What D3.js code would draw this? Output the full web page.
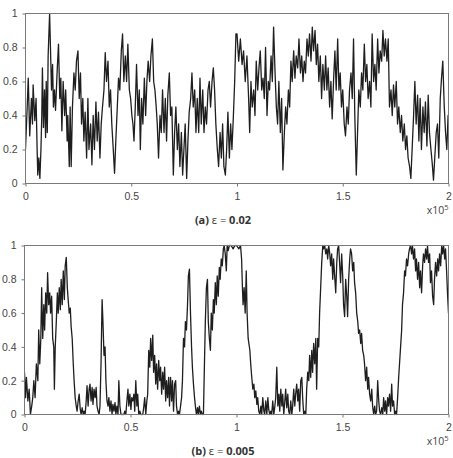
<!DOCTYPE html>
<html>
<head>
<meta charset="utf-8">
<script src="https://cdn.jsdelivr.net/npm/d3@7"></script>
<style>
  body { margin: 0; background: #fff; }
  svg { display: block; }
</style>
</head>
<body>
<div id="viz"></div>
<script>
// tick values shared by both panels (x in units of 1e5)
const xTicks = [0, 0.5, 1, 1.5, 2];
const yTicks = [0, 0.2, 0.4, 0.6, 0.8, 1];

// (a) eps = 0.02 : [time, value]
const seriesA = [
  [0,0.2],[0.008,0.45],[0.013,0.62],[0.02,0.28],[0.028,0.5],[0.033,0.35],[0.036,0.58],[0.044,0.37],[0.05,0.5],[0.055,0.2],
  [0.058,0.05],[0.063,0.15],[0.068,0.03],[0.073,0.2],[0.077,0.4],[0.08,0.68],[0.085,0.33],[0.09,0.55],[0.095,0.27],[0.098,0.6],
  [0.103,0.3],[0.107,0.75],[0.114,1.0],[0.118,0.8],[0.123,0.55],[0.128,0.7],[0.132,0.45],[0.137,0.55],[0.142,0.43],[0.15,0.67],
  [0.156,0.82],[0.162,0.5],[0.167,0.62],[0.172,0.31],[0.178,0.6],[0.185,0.4],[0.19,0.55],[0.197,0.25],[0.2,0.4],[0.207,0.1],
  [0.211,0.45],[0.216,0.1],[0.222,0.45],[0.229,0.65],[0.235,0.55],[0.241,0.72],[0.248,0.78],[0.254,0.5],[0.26,0.65],[0.265,0.35],
  [0.271,0.5],[0.276,0.25],[0.282,0.42],[0.289,0.15],[0.295,0.5],[0.3,0.2],[0.308,0.35],[0.314,0.11],[0.32,0.4],[0.326,0.2],
  [0.333,0.48],[0.339,0.25],[0.345,0.42],[0.352,0.15],[0.358,0.35],[0.364,0.45],[0.371,0.55],[0.377,0.77],[0.383,0.6],[0.39,0.72],
  [0.396,0.45],[0.402,0.55],[0.408,0.35],[0.415,0.2],[0.421,0.06],[0.427,0.25],[0.434,0.45],[0.44,0.62],[0.446,0.55],[0.453,0.78],
  [0.459,0.88],[0.465,0.6],[0.472,0.75],[0.478,0.6],[0.484,0.82],[0.491,0.55],[0.497,0.5],[0.503,0.4],[0.508,0.35],[0.513,0.25],
  [0.519,0.45],[0.525,0.7],[0.532,0.4],[0.538,0.55],[0.543,0.2],[0.549,0.5],[0.555,0.35],[0.562,0.62],[0.568,0.4],[0.574,0.6],
  [0.58,0.72],[0.587,0.6],[0.593,0.75],[0.6,0.85],[0.606,0.6],[0.612,0.55],[0.618,0.45],[0.623,0.35],[0.629,0.15],[0.636,0.4],
  [0.642,0.3],[0.648,0.55],[0.655,0.3],[0.661,0.5],[0.667,0.25],[0.673,0.52],[0.68,0.65],[0.686,0.4],[0.692,0.45],[0.699,0.05],
  [0.705,0.3],[0.711,0.45],[0.718,0.2],[0.724,0.35],[0.73,0.1],[0.737,0.3],[0.743,0.05],[0.749,0.2],[0.755,0.35],[0.762,0.03],
  [0.768,0.25],[0.774,0.42],[0.781,0.5],[0.787,0.65],[0.793,0.45],[0.8,0.55],[0.806,0.3],[0.812,0.5],[0.819,0.3],[0.825,0.62],
  [0.831,0.35],[0.838,0.55],[0.844,0.3],[0.85,0.45],[0.856,0.35],[0.863,0.55],[0.869,0.6],[0.875,0.45],[0.882,0.6],[0.888,0.68],
  [0.894,0.55],[0.9,0.35],[0.907,0.2],[0.913,0.1],[0.92,0.3],[0.926,0.15],[0.932,0.35],[0.938,0.1],[0.945,0.05],[0.951,0.2],
  [0.957,0.42],[0.964,0.15],[0.97,0.35],[0.976,0.2],[0.983,0.4],[0.989,0.6],[0.995,0.88],
  [1.0,0.88],[1.008,0.72],[1.016,0.85],[1.024,0.7],[1.031,0.78],[1.039,0.6],[1.047,0.75],[1.055,0.5],[1.06,0.3],[1.066,0.6],
  [1.072,0.45],[1.079,0.55],[1.085,0.4],[1.091,0.72],[1.098,0.55],[1.104,0.68],[1.11,0.78],[1.117,0.55],[1.123,0.62],[1.129,0.5],
  [1.135,0.8],[1.142,0.4],[1.148,0.6],[1.154,0.55],[1.161,0.75],[1.167,0.6],[1.173,0.92],[1.18,0.65],[1.186,0.45],[1.192,0.35],
  [1.198,0.6],[1.205,0.3],[1.211,0.5],[1.217,0.08],[1.224,0.3],[1.23,0.45],[1.236,0.35],[1.243,0.55],[1.249,0.45],[1.255,0.72],
  [1.261,0.6],[1.268,0.78],[1.274,0.62],[1.28,0.75],[1.287,0.68],[1.293,0.85],[1.3,0.65],[1.306,0.75],[1.312,0.6],[1.318,0.72],
  [1.324,0.65],[1.331,0.85],[1.337,0.75],[1.343,0.88],[1.35,0.72],[1.356,0.92],[1.362,0.78],[1.369,0.9],[1.375,0.7],[1.381,0.82],
  [1.387,0.6],[1.394,0.75],[1.4,0.5],[1.406,0.7],[1.413,0.55],[1.419,0.75],[1.425,0.55],[1.431,0.68],[1.438,0.45],[1.444,0.6],
  [1.45,0.38],[1.457,0.62],[1.463,0.78],[1.469,0.55],[1.476,0.85],[1.482,0.55],[1.488,0.65],[1.494,0.45],[1.5,0.55],[1.507,0.35],
  [1.513,0.28],[1.52,0.45],[1.526,0.35],[1.532,0.55],[1.539,0.65],[1.545,0.5],[1.551,0.85],[1.557,0.4],[1.564,0.05],[1.57,0.3],
  [1.576,0.55],[1.583,0.45],[1.589,0.65],[1.595,0.55],[1.602,0.82],[1.608,0.6],[1.614,0.7],[1.62,0.5],[1.627,0.6],[1.633,0.45],
  [1.639,0.88],[1.646,0.6],[1.652,0.7],[1.658,0.55],[1.665,0.85],[1.671,0.65],[1.677,0.78],[1.684,0.72],[1.69,0.9],[1.696,0.75],
  [1.702,0.85],[1.709,0.72],[1.715,0.85],[1.721,0.45],[1.728,0.55],[1.734,0.4],[1.74,0.58],[1.746,0.45],[1.753,0.6],[1.759,0.35],
  [1.765,0.45],[1.772,0.3],[1.778,0.4],[1.784,0.25],[1.791,0.35],[1.797,0.2],[1.803,0.28],[1.809,0.15],[1.816,0.1],[1.822,0.03],
  [1.828,0.2],[1.835,0.4],[1.841,0.6],[1.847,0.35],[1.854,0.52],[1.86,0.25],[1.866,0.5],[1.872,0.2],[1.879,0.45],[1.885,0.3],
  [1.891,0.48],[1.898,0.22],[1.904,0.52],[1.91,0.3],[1.917,0.2],[1.923,0.12],[1.929,0.02],[1.935,0.15],[1.942,0.3],[1.948,0.35],
  [1.954,0.15],[1.961,0.5],[1.967,0.62],[1.973,0.72],[1.98,0.45],[1.986,0.3],[1.992,0.2],[1.998,0.4],[2.0,0.35]
];

// (b) eps = 0.005
const seriesB = [
  [0,0.25],[0.005,0.1],[0.009,0.22],[0.016,0.08],[0.022,0.15],[0.028,0.0],[0.034,0.05],[0.039,0.1],[0.044,0.2],[0.05,0.1],
  [0.056,0.3],[0.063,0.2],[0.067,0.5],[0.072,0.3],[0.077,0.45],[0.081,0.75],[0.086,0.45],[0.091,0.65],[0.095,0.5],[0.1,0.72],
  [0.105,0.6],[0.109,0.84],[0.114,0.65],[0.119,0.72],[0.123,0.6],[0.128,0.7],[0.133,0.45],[0.138,0.4],[0.141,0.15],[0.145,0.4],
  [0.15,0.55],[0.155,0.72],[0.159,0.6],[0.164,0.75],[0.169,0.62],[0.173,0.8],[0.178,0.65],[0.183,0.85],[0.188,0.68],[0.192,0.88],
  [0.197,0.93],[0.202,0.75],[0.206,0.68],[0.211,0.6],[0.216,0.63],[0.22,0.52],[0.225,0.45],[0.23,0.3],[0.234,0.2],[0.239,0.1],
  [0.244,0.05],[0.248,0.02],[0.253,0.08],[0.258,0.12],[0.263,0.03],[0.267,0.0],[0.272,0.04],[0.277,0.0],[0.281,0.02],[0.286,0.0],
  [0.291,0.08],[0.295,0.17],[0.3,0.05],[0.305,0.15],[0.309,0.18],[0.314,0.08],[0.319,0.16],[0.323,0.06],[0.328,0.15],[0.333,0.1],
  [0.338,0.16],[0.342,0.05],[0.347,0.02],[0.352,0.0],[0.356,0.05],[0.361,0.3],[0.366,0.68],[0.37,0.55],[0.375,0.35],[0.38,0.4],
  [0.384,0.2],[0.389,0.08],[0.394,0.05],[0.398,0.1],[0.403,0.02],[0.408,0.08],[0.413,0.0],[0.417,0.06],[0.422,0.02],[0.427,0.07],
  [0.431,0.0],[0.436,0.05],[0.441,0.0],[0.445,0.2],[0.45,0.05],[0.455,0.0],[0.459,0.0],[0.464,0.0],[0.469,0.0],[0.473,0.02],
  [0.478,0.0],[0.483,0.08],[0.488,0.15],[0.492,0.05],[0.497,0.12],[0.502,0.03],[0.506,0.1],[0.511,0.08],[0.516,0.12],[0.52,0.02],
  [0.525,0.2],[0.53,0.05],[0.534,0.12],[0.539,0.0],[0.544,0.02],[0.548,0.0],[0.553,0.0],[0.558,0.0],[0.563,0.05],[0.567,0.1],
  [0.572,0.0],[0.577,0.08],[0.581,0.12],[0.586,0.38],[0.591,0.28],[0.595,0.45],[0.6,0.32],[0.605,0.47],[0.609,0.25],[0.614,0.35],
  [0.619,0.18],[0.623,0.3],[0.628,0.15],[0.633,0.32],[0.638,0.2],[0.642,0.28],[0.647,0.12],[0.652,0.25],[0.656,0.15],[0.661,0.28],
  [0.666,0.08],[0.67,0.2],[0.675,0.1],[0.68,0.22],[0.684,0.05],[0.689,0.22],[0.694,0.08],[0.698,0.2],[0.703,0.02],[0.708,0.18],
  [0.713,0.2],[0.717,0.05],[0.722,0.0],[0.727,0.02],[0.731,0.0],[0.736,0.05],[0.741,0.1],[0.745,0.2],[0.75,0.45],[0.755,0.4],
  [0.759,0.55],[0.764,0.5],[0.769,0.65],[0.773,0.82],[0.778,0.86],[0.783,0.6],[0.788,0.4],[0.792,0.28],[0.797,0.18],[0.802,0.1],
  [0.806,0.05],[0.811,0.0],[0.816,0.04],[0.82,0.0],[0.825,0.05],[0.83,0.0],[0.834,0.02],[0.839,0.0],[0.844,0.0],[0.848,0.25],
  [0.853,0.55],[0.858,0.75],[0.863,0.8],[0.867,0.55],[0.872,0.45],[0.877,0.38],[0.881,0.6],[0.886,0.5],[0.891,0.68],[0.895,0.6],
  [0.9,0.78],[0.905,0.65],[0.909,0.82],[0.914,0.7],[0.919,0.87],[0.923,0.8],[0.928,0.92],[0.933,0.88],[0.938,0.98],[0.942,1.0],
  [0.947,0.95],[0.952,0.85],[0.956,1.0],[0.961,0.97],[0.966,1.0],[0.975,1.0],[0.984,0.98],[0.992,1.0],
  [1.0,1.0],[1.011,0.98],[1.019,1.0],[1.024,0.92],[1.028,0.75],[1.031,0.65],[1.036,0.75],[1.041,0.6],[1.046,0.85],[1.05,0.6],
  [1.055,0.45],[1.063,0.38],[1.067,0.3],[1.072,0.22],[1.077,0.15],[1.082,0.18],[1.086,0.1],[1.091,0.14],[1.096,0.06],[1.1,0.1],
  [1.105,0.02],[1.11,0.0],[1.115,0.05],[1.119,0.0],[1.124,0.1],[1.129,0.02],[1.133,0.0],[1.138,0.08],[1.143,0.0],[1.148,0.1],
  [1.152,0.03],[1.157,0.0],[1.162,0.02],[1.166,0.0],[1.171,0.08],[1.176,0.0],[1.181,0.05],[1.185,0.1],[1.19,0.28],[1.195,0.05],
  [1.2,0.12],[1.204,0.02],[1.209,0.15],[1.214,0.05],[1.218,0.12],[1.223,0.0],[1.228,0.08],[1.232,0.15],[1.237,0.04],[1.242,0.12],
  [1.246,0.02],[1.251,0.0],[1.256,0.08],[1.261,0.0],[1.265,0.05],[1.27,0.15],[1.275,0.05],[1.279,0.12],[1.284,0.18],[1.289,0.08],
  [1.293,0.15],[1.298,0.02],[1.303,0.2],[1.308,0.22],[1.312,0.1],[1.317,0.0],[1.322,0.02],[1.327,0.0],[1.331,0.15],[1.336,0.25],
  [1.341,0.2],[1.345,0.35],[1.35,0.22],[1.355,0.38],[1.359,0.25],[1.364,0.42],[1.369,0.3],[1.374,0.45],[1.378,0.15],[1.383,0.45],
  [1.388,0.4],[1.392,0.6],[1.397,0.75],[1.402,0.9],[1.407,1.0],[1.411,0.98],[1.416,1.0],[1.421,0.95],[1.426,0.98],[1.43,0.92],
  [1.435,1.0],[1.44,0.95],[1.444,0.88],[1.449,0.95],[1.454,0.8],[1.458,0.92],[1.463,0.82],[1.468,0.72],[1.473,0.9],[1.477,0.98],
  [1.482,1.0],[1.487,0.88],[1.491,0.78],[1.496,0.95],[1.501,0.82],[1.505,0.65],[1.51,0.58],[1.515,0.8],[1.52,0.7],[1.524,0.58],
  [1.529,0.8],[1.534,0.92],[1.538,0.98],[1.543,0.95],[1.548,0.85],[1.553,0.9],[1.557,0.78],[1.562,0.72],[1.567,0.6],[1.572,0.55],
  [1.576,0.48],[1.581,0.5],[1.586,0.42],[1.59,0.48],[1.595,0.38],[1.6,0.35],[1.604,0.3],[1.609,0.2],[1.614,0.28],[1.619,0.15],
  [1.623,0.22],[1.628,0.12],[1.633,0.08],[1.638,0.15],[1.642,0.05],[1.647,0.0],[1.652,0.05],[1.656,0.0],[1.661,0.02],[1.666,0.2],
  [1.671,0.08],[1.675,0.02],[1.68,0.0],[1.685,0.04],[1.69,0.0],[1.694,0.1],[1.699,0.02],[1.703,0.08],[1.708,0.0],[1.713,0.1],
  [1.717,0.05],[1.722,0.12],[1.727,0.02],[1.732,0.18],[1.736,0.05],[1.741,0.08],[1.746,0.0],[1.751,0.02],[1.755,0.0],[1.76,0.1],
  [1.765,0.22],[1.769,0.3],[1.774,0.4],[1.779,0.5],[1.783,0.65],[1.788,0.72],[1.793,0.85],[1.797,0.82],[1.802,0.92],[1.807,0.88],
  [1.812,0.95],[1.816,0.98],[1.821,1.0],[1.826,0.95],[1.83,1.0],[1.835,0.92],[1.84,0.98],[1.845,0.85],[1.849,0.92],[1.854,0.8],
  [1.859,0.9],[1.864,0.75],[1.868,0.85],[1.873,0.72],[1.878,0.88],[1.882,0.95],[1.887,0.9],[1.892,0.98],[1.897,0.92],[1.901,1.0],
  [1.906,0.9],[1.911,0.95],[1.915,0.78],[1.92,0.85],[1.925,0.7],[1.93,0.65],[1.934,0.8],[1.939,0.9],[1.944,0.82],[1.949,0.92],
  [1.953,0.85],[1.958,0.95],[1.963,0.88],[1.968,1.0],[1.972,0.95],[1.977,1.0],[1.982,0.92],[1.986,0.98],[1.991,0.85],[1.996,0.7],
  [2.0,0.6]
];

const svg = d3.select("#viz")
  .append("svg")
  .attr("width", 453)
  .attr("height", 458)
  .style("font-family", "'Open Sans', 'DejaVu Sans', sans-serif");

function drawPanel(id, data, caption, box) {
  const x = d3.scaleLinear().domain([0, 2]).range([box.left, box.right]);
  const y = d3.scaleLinear().domain([0, 1]).range([box.bottom, box.top]);

  svg.append("clipPath").attr("id", id)
    .append("rect")
    .attr("x", box.left).attr("y", box.top - 1)
    .attr("width", box.right - box.left).attr("height", box.bottom - box.top + 2);

  // axes, ticks point outward
  const xAxis = svg.append("g")
    .attr("transform", `translate(0,${box.bottom})`)
    .call(d3.axisBottom(x).tickValues(xTicks).tickSize(3).tickPadding(6).tickFormat(d3.format("")));
  const yAxis = svg.append("g")
    .attr("transform", `translate(${box.left},0)`)
    .call(d3.axisLeft(y).tickValues(yTicks).tickSize(3).tickPadding(5).tickFormat(d3.format("")));

  [xAxis, yAxis].forEach(g => {
    g.select(".domain").remove();
    g.selectAll("line").attr("stroke", "#777");
    g.selectAll("text").attr("fill", "#444").style("font-size", "10.5px");
  });

  // the signal
  const line = d3.line()
    .x(d => x(d[0]))
    .y(d => y(d[1]));

  svg.append("path")
    .datum(data)
    .attr("clip-path", `url(#${id})`)
    .attr("fill", "none")
    .attr("stroke", "#1e1e1e")
    .attr("stroke-width", 1.3)
    .attr("stroke-linejoin", "round")
    .attr("d", line);

  // frame
  svg.append("rect")
    .attr("x", box.left).attr("y", box.top)
    .attr("width", box.right - box.left).attr("height", box.bottom - box.top)
    .attr("fill", "none")
    .attr("stroke", "#7a7a7a")
    .attr("stroke-width", 1);

  // x10^5 multiplier
  const mult = svg.append("text")
    .attr("x", box.right)
    .attr("y", box.bottom + 30)
    .attr("text-anchor", "end")
    .attr("fill", "#444")
    .style("font-size", "10.5px");
  mult.append("tspan").text("x10");
  mult.append("tspan").attr("dy", -4).style("font-size", "7.5px").text("5");

  // caption
  const cap = svg.append("text")
    .attr("x", 223)
    .attr("y", box.bottom + 40)
    .attr("text-anchor", "middle")
    .attr("fill", "#333")
    .style("font-size", "11px");
  cap.append("tspan").style("font-weight", "bold").text(caption[0]);
  cap.append("tspan").text(caption[1]);
  cap.append("tspan").style("font-weight", "bold").text(caption[2]);
}

drawPanel("clipA", seriesA, ["(a)", " \u03b5 =  ", "0.02"], { left: 25.5, right: 448.5, top: 13.5, bottom: 183.5 });
drawPanel("clipB", seriesB, ["(b)", " \u03b5 = ", "0.005"], { left: 24.5, right: 448.5, top: 245.5, bottom: 414.5 });
</script>
</body>
</html>
